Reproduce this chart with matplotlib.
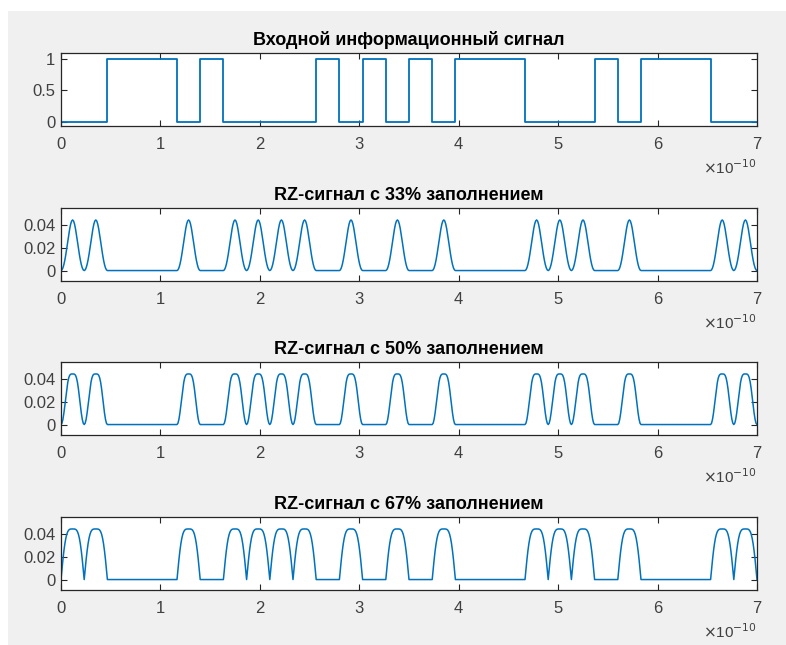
"""
Input bit stream and RZ signals with 33%, 50% and 67% duty cycle.
"""
import numpy as np
import matplotlib.pyplot as plt
from matplotlib.patches import Rectangle

plt.rcParams['font.family'] = ['Liberation Sans', 'DejaVu Sans']

# bit stream (30 bits over 7e-10 s)
input_bits = [0, 0, 1, 1, 1, 0, 1, 0, 0, 0, 0, 1, 0, 1, 0, 1, 0, 1, 1, 1,
              0, 0, 0, 1, 0, 1, 1, 1, 0, 0]
# bits that carry a pulse in the RZ plots
rz_bits = [1, 1, 0, 0, 0, 1, 0, 1, 1, 1, 1, 0, 1, 0, 1, 0, 1, 0, 0, 0,
           1, 1, 1, 0, 1, 0, 0, 0, 1, 1]
t_end = 7e-10
peak = 0.0447
titles = ["Входной информационный сигнал",
          "RZ-сигнал с 33% заполнением",
          "RZ-сигнал с 50% заполнением",
          "RZ-сигнал с 67% заполнением"]
x_ticks = [0, 1, 2, 3, 4, 5, 6, 7]

n_bits = len(input_bits)
T = t_end / n_bits
spb = 24  # samples per bit
t = np.arange(n_bits * spb + 1) * T / spb
phase = (t % T) / T
bit_idx = np.minimum((t // T).astype(int), n_bits - 1)
rz = np.array(rz_bits)[bit_idx]

# field envelopes of MZM-carved pulses
pulse33 = np.cos(np.pi / 2 * np.cos(np.pi * phase))
pulse50 = np.sin(np.pi / 2 * np.sin(np.pi * phase) ** 2)
pulse67 = np.sin(np.pi / 2 * np.sin(np.pi * phase))
signals = [rz * pulse33 * peak, rz * pulse50 * peak, rz * pulse67 * peak]

fig = plt.figure(figsize=(7.86, 6.45), dpi=100, facecolor='white')
fig.patches.append(Rectangle((8 / 786, 0), 1, 1 - 11 / 645, transform=fig.transFigure,
                             facecolor='#f0f0f0', edgecolor='none', zorder=-10))

left, width = 61 / 786, 696 / 786
tops = [53.3, 208.3, 362.3, 517.3]
h_px = 73
axes = [fig.add_axes([left, 1 - (tp + h_px) / 645, width, h_px / 645]) for tp in tops]

line_color = '#0072BD'
edge = '#262626'
label_color = '#404040'

# step plot of input
t_step = np.arange(n_bits + 1) * T
axes[0].step(t_step, input_bits + [input_bits[-1]], where='post', color=line_color, lw=1.3)
axes[0].set_ylim(-0.075, 1.09)
axes[0].set_yticks([0, 0.5, 1])
axes[0].set_yticklabels(['0', '0.5', '1'])

for ax, sig in zip(axes[1:], signals):
    ax.plot(t, sig, color=line_color, lw=1.1)
    ax.set_ylim(-0.0095, 0.055)
    ax.set_yticks([0, 0.02, 0.04])
    ax.set_yticklabels(['0', '0.02', '0.04'])

for ax, title in zip(axes, titles):
    ax.set_xlim(0, t_end)
    ax.set_xticks([k * 1e-10 for k in x_ticks])
    ax.set_xticklabels([str(k) for k in x_ticks])
    ax.tick_params(direction='in', top=True, right=True, length=4, width=0.8,
                   colors=edge, labelcolor=label_color, labelsize=12)
    ax.tick_params(axis='x', pad=8)
    ax.tick_params(axis='y', pad=4)
    for s in ax.spines.values():
        s.set_color(edge)
        s.set_linewidth(0.9)
    ax.set_title(title, fontsize=13, fontweight='bold', color='black', pad=6)
    ax.text(1.0, -0.44, r'$\times$10$^{-10}$', transform=ax.transAxes, ha='right',
            va='top', fontsize=11, color=label_color)

fig.savefig('out.png', dpi=100, facecolor=fig.get_facecolor())
